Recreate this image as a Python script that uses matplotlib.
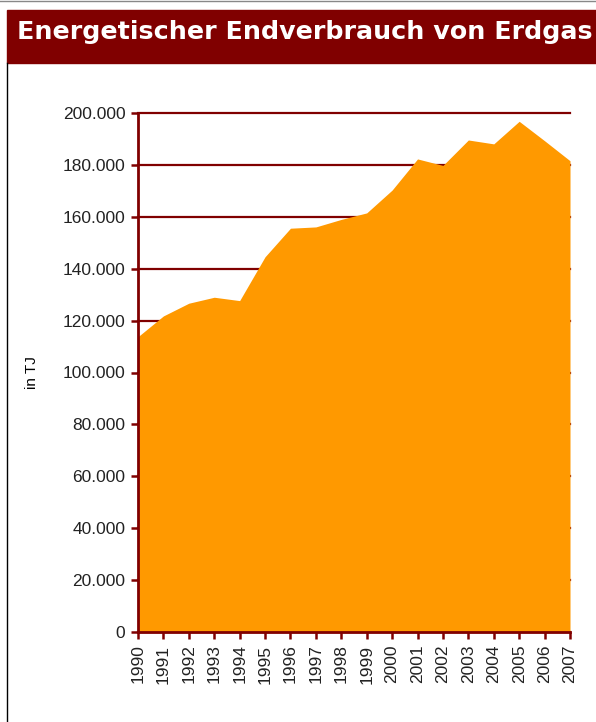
import matplotlib.pyplot as plt
from matplotlib.lines import Line2D
from matplotlib.patches import Rectangle
from matplotlib.ticker import FuncFormatter

years = list(range(1990, 2008))
verbrauch_tj = [113800, 121800, 126700, 129000, 127700, 144600, 155600, 156100,
                159000, 161500, 170300, 182300, 179800, 189600, 188100, 196800,
                189300, 181600]
y_ticks = list(range(0, 200001, 20000))

dark_red = "#800000"
orange = "#FF9900"

W, H = 596, 722
fig = plt.figure(figsize=(W / 100, H / 100), dpi=100)
fig.patch.set_facecolor("white")

# header band
fig.patches.append(Rectangle((7 / W, 1 - 63 / H), 1 - 7 / W, 53 / H,
                             transform=fig.transFigure, color=dark_red, zorder=0))
fig.text(17 / W, 1 - 32 / H, "Energetischer Endverbrauch von Erdgas",
         color="white", fontsize=18.3, fontweight="bold", family="DejaVu Sans",
         va="center", ha="left")
# frame lines
fig.lines.append(Line2D([0, 1], [1 - 0.5 / H, 1 - 0.5 / H], transform=fig.transFigure,
                        color="#888888", lw=1))
fig.lines.append(Line2D([7.5 / W, 7.5 / W], [0, 1 - 63 / H], transform=fig.transFigure,
                        color="black", lw=1))

ax = fig.add_axes([138 / W, 90 / H, 432 / W, 519 / H])
ax.fill_between(years, verbrauch_tj, 0, color=orange, lw=0, zorder=2)

ax.set_xlim(years[0], years[-1])
ax.set_ylim(0, 200000)
ax.set_xticks(years)
ax.set_xticklabels([str(y) for y in years], rotation=90)
ax.set_yticks(y_ticks)
ax.yaxis.set_major_formatter(FuncFormatter(lambda v, p: "0" if v == 0 else f"{int(v):,}".replace(",", ".")))

ax.grid(axis="y", color=dark_red, lw=1.6, zorder=1)
for gl in ax.get_ygridlines():
    gl.set_clip_on(False)
ax.set_axisbelow(True)
for side in ["top", "right"]:
    ax.spines[side].set_visible(False)
for side in ["left", "bottom"]:
    ax.spines[side].set_color(dark_red)
    ax.spines[side].set_linewidth(2)
    ax.spines[side].set_zorder(3)

ax.tick_params(axis="both", direction="out", length=5, width=1.8, color=dark_red,
               labelsize=12.5, labelcolor="#222222", pad=4)
for lab in ax.get_xticklabels() + ax.get_yticklabels():
    lab.set_family("Liberation Sans")

ax.set_ylabel("in TJ", fontsize=11, family="Liberation Sans", labelpad=17)

fig.savefig("out.png", dpi=100, facecolor=fig.get_facecolor())
